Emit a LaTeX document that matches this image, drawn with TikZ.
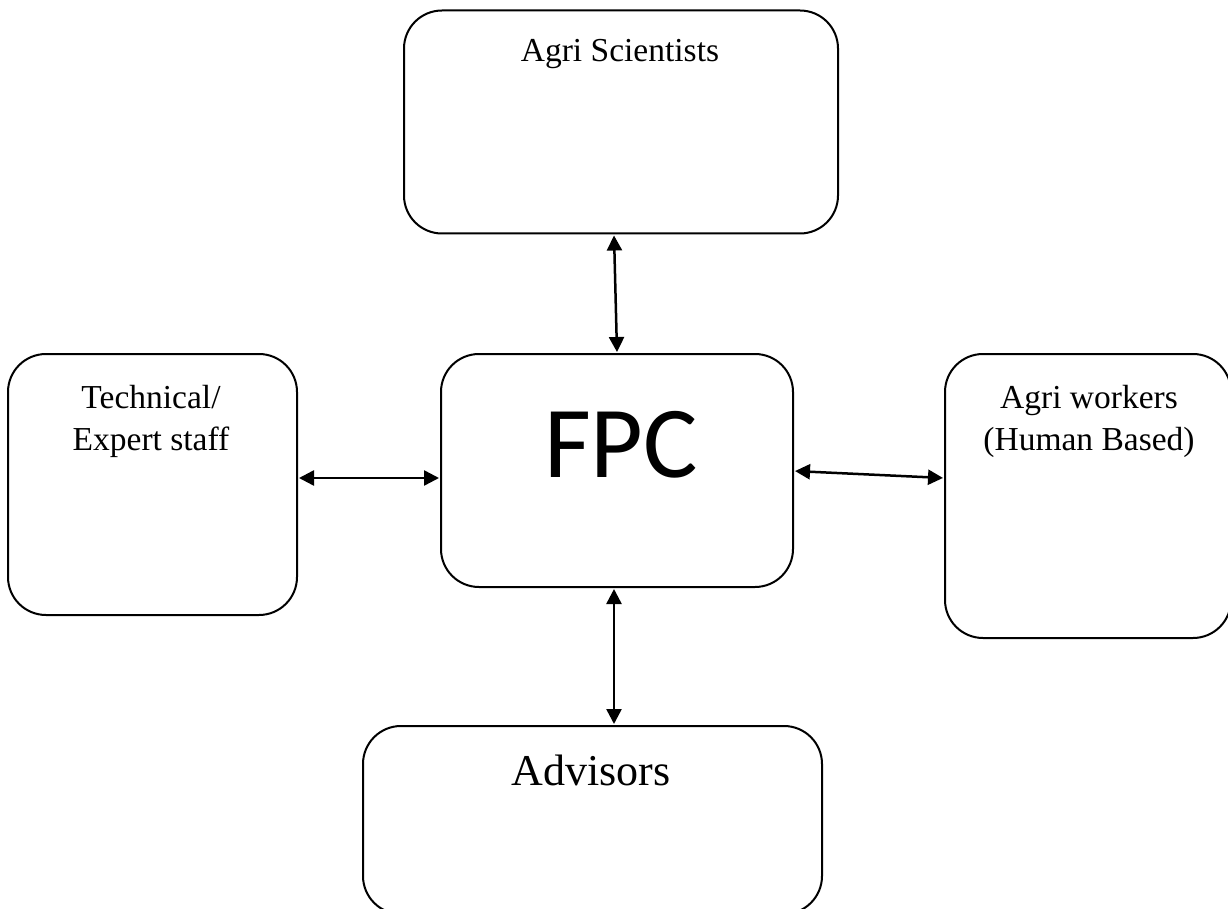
\documentclass[tikz,border=0pt]{standalone}
\usepackage{fontspec}
\setmainfont{Liberation Serif}
\newfontfamily\fpcfont{Carlito}
\usetikzlibrary{arrows.meta,positioning,calc}
\tikzset{
  box/.style={draw=black, line width=2pt, rounded corners=38pt, inner sep=0pt, fill=white},
  lbl/.style={inner sep=0pt, align=center, font=\fontsize{33.5}{42}\selectfont},
  arr/.style={line width=2.5pt, {Triangle[length=15pt,width=15pt]}-{Triangle[length=15pt,width=15pt]}, shorten <=1pt, shorten >=1pt}
}
\begin{document}
\begin{tikzpicture}[x=1pt,y=-1pt]
\path[use as bounding box, clip] (0,0) rectangle (1228,909);
\fill[white] (0,0) rectangle (1228,909);
% boxes
\node[box, minimum width=434pt, minimum height=223pt] (as) at (621,122) {};
\node[box, minimum width=352pt, minimum height=233pt] (fpc) at (617,470.5) {};
\node[box, minimum width=289pt, minimum height=261pt] (tech) at (152.5,484.5) {};
\node[box, minimum width=286pt, minimum height=284pt] (work) at (1088,496) {};
\node[box, minimum width=459pt, minimum height=188pt] (adv) at (592.5,820) {};
% texts
\node[lbl, anchor=base] (tas) at (620,62) {Agri Scientists};
\node[lbl, anchor=base] (ttech1) at (151,408) {Technical/};
\node[lbl, anchor=base] (ttech2) at (151,450) {Expert staff};
\node[lbl, anchor=base] (twork1) at (1089,408) {Agri workers};
\node[lbl, anchor=base] (twork2) at (1089,450) {(Human Based)};
\node[lbl, anchor=base, font=\fontsize{44}{50}\selectfont] (tadv) at (591,785) {Advisors};
\node[inner sep=0pt, anchor=base, font=\fpcfont\fontsize{102}{110}\selectfont] (tfpc) at (621,477) {FPC};
% connectors
\draw[arr] ([xshift=-7pt]as.south) -- ([xshift=0pt]fpc.north);
\draw[arr] ([yshift=6.5pt]tech.east) -- ([yshift=-7.5pt]fpc.west);
\draw[arr] ([yshift=-0.5pt]fpc.east) -- ([yshift=18pt]work.west);
\draw[arr] ([xshift=-3pt]fpc.south) -- ([xshift=21.5pt]adv.north);
\end{tikzpicture}
\end{document}
